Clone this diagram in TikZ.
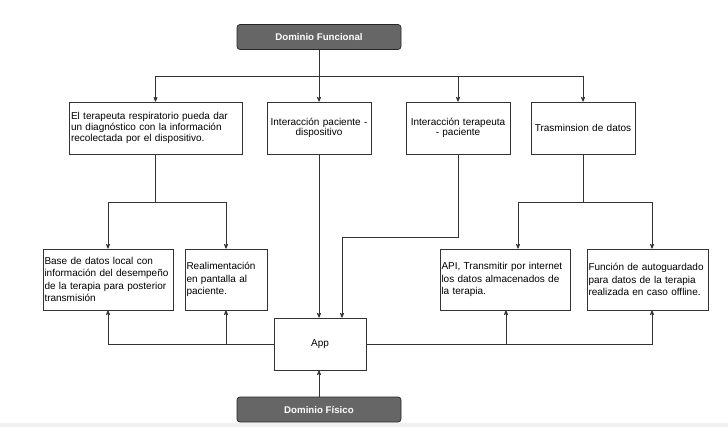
\documentclass[tikz,border=0pt]{standalone}
\usepackage{fontspec}
\setmainfont{Liberation Sans}
\usetikzlibrary {arrows}
\usetikzlibrary {shapes.geometric}

\begin{document}
\begin{tikzpicture} [
        x=1pt, y=-1pt,
        box/.style={draw=black!80, rectangle, line width=0.7pt, inner sep=2pt, minimum height=52pt, font=\fontsize{10}{10.6}\selectfont},
        lowbox/.style={box, align=left, inner xsep=1.5pt, minimum height=61pt, font=\fontsize{10}{12.3}\selectfont},
        dominio/.style={draw=black!85, fill=black!60, rounded corners=3pt, line width=0.7pt, text=white, font=\fontsize{9.7}{10.5}\selectfont\bfseries, minimum width=164pt, minimum height=25pt, inner sep=0pt},
        link/.style={draw=black!80, line width=0.7pt},
        >=stealth' ]
    \useasboundingbox (0,0) rectangle (728,427);
    \fill[black!6] (0,423) rectangle (728,427);
    % dominios
    \node[dominio] (fun) at (319,37) {Dominio Funcional};
    \node[dominio] (fis) at (319,409.5) {Dominio Físico};
    % fila superior
    \node[box, text width=169pt, align=left] (diag) at (155.5,128) {El terapeuta respiratorio pueda dar\\un diagnóstico con la información\\recolectada por el dispositivo.};
    \node[box, text width=100pt, align=center] (intpd) at (319,128) {Interacción paciente -\\dispositivo};
    \node[box, text width=100pt, align=center] (intp) at (458,128) {Interacción terapeuta\\- paciente};
    \node[box, text width=100pt, align=center] (tras) at (583,128) {Trasminsion de datos};
    % fila inferior
    \node[lowbox, text width=127pt] (bdl) at (108,279.5) {Base de datos local con\\información del desempeño\\de la terapia para posterior\\transmisión};
    \node[lowbox, text width=79pt] (real) at (226,279.5) {Realimentación\\en pantalla al\\paciente.};
    \node[lowbox, text width=127pt] (api) at (505,279.5) {API, Transmitir por internet\\los datos almacenados de\\la terapia.};
    \node[lowbox, text width=118pt] (auto) at (647.5,279.5) {Función de autoguardado\\para datos de la terapia\\realizada en caso offline.};
    \node[box, minimum width=92pt] (app) at (320,344) {App};
    % puntos de quiebre
    \coordinate (top) at (319,76);
    \coordinate (jl) at (155.5,202);
    \coordinate (jr) at (583,202);
    \coordinate (jra) at (518,202);
    \coordinate (jrb) at (652,202);
    \coordinate (ct) at (342,237);
    \coordinate (bra) at (506,344);
    \coordinate (brb) at (652,344);
    % conexiones
    \draw[link, ->] (fun) -- (intpd);
    \draw[link, ->] (top) -| (diag.north);
    \draw[link, ->] (top) -| (intp.north);
    \draw[link, ->] (top) -| (tras.north);
    \draw[link] (diag) -- (jl);
    \draw[link, ->] (jl) -| (bdl.north);
    \draw[link, ->] (jl) -| (real.north);
    \draw[link, ->] (intpd) -- (app.north -| intpd.south);
    \draw[link, ->] (intp.south) |- (ct) -- (app.north -| ct);
    \draw[link] (tras) -- (jr);
    \draw[link, ->] (jr) -| (jra |- api.north);
    \draw[link, ->] (jr) -| (jrb |- auto.north);
    \draw[link, ->] (app.west) -| (bdl.south);
    \draw[link, ->] (app.west -| real.south) -- (real.south);
    \draw[link, ->] (app.east) -| (brb |- auto.south);
    \draw[link, ->] (bra) -- (bra |- api.south);
    \draw[link, ->] (fis.north) -- (fis.north |- app.south);
\end{tikzpicture}
\end{document}
